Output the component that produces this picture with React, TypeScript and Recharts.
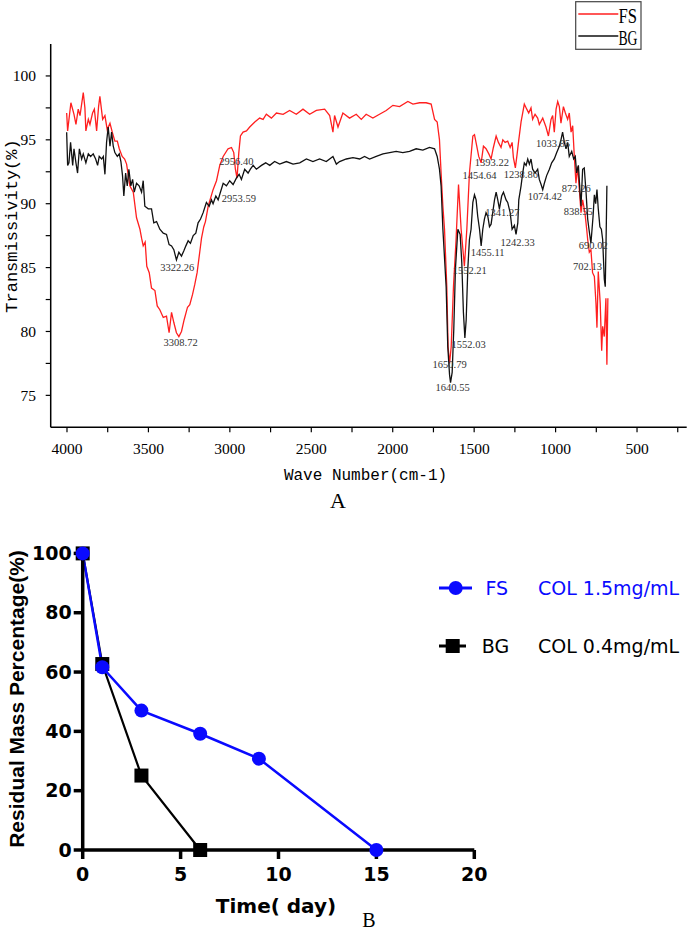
import React from 'react';
import { ComposedChart, Line, XAxis, YAxis, ReferenceDot } from 'recharts';

// ---- panel A: FTIR spectra, [wave number, transmissivity] ----
const FS_SPECTRUM: [number, number][] = [
  [4002, 97.1], [3996, 95.7], [3976, 97.9], [3957, 97.0], [3945, 96.2], [3931, 97.4], [3920, 96.9],
  [3900, 98.7], [3890, 97.5], [3884, 95.7], [3869, 96.6], [3859, 96.2], [3843, 97.1], [3832, 97.4],
  [3818, 95.7], [3806, 97.6], [3798, 98.4], [3781, 96.6], [3767, 96.9], [3753, 95.8], [3736, 96.3],
  [3722, 95.6], [3706, 94.9], [3691, 94.9], [3679, 94.3], [3661, 93.7], [3646, 93.5], [3634, 93.1],
  [3614, 91.4], [3593, 90.9], [3573, 88.9], [3552, 88.0], [3542, 87.3], [3532, 86.7], [3520, 87.0],
  [3510, 85.1], [3495, 84.6], [3481, 83.4], [3460, 83.2], [3446, 82.0], [3430, 81.7], [3409, 81.1],
  [3389, 81.2], [3373, 79.9], [3358, 81.5], [3344, 80.7], [3328, 79.9], [3313, 79.6], [3297, 80.0],
  [3281, 80.9], [3260, 81.9], [3246, 82.1], [3229, 82.9], [3215, 83.7], [3201, 84.6], [3185, 86.2],
  [3174, 87.3], [3160, 88.2], [3150, 88.6], [3133, 89.8], [3103, 91.1], [3082, 91.8], [3062, 93.0],
  [3041, 93.7], [3011, 94.3], [2990, 94.4], [2976, 94.0], [2966, 92.7], [2956, 92.0], [2945, 94.0],
  [2935, 95.3], [2919, 95.6], [2898, 95.7], [2878, 96.0], [2847, 96.4], [2817, 96.7], [2796, 96.6],
  [2776, 97.0], [2745, 96.7], [2714, 97.1], [2673, 97.0], [2633, 97.3], [2592, 97.0], [2551, 97.4],
  [2510, 97.0], [2469, 97.3], [2418, 97.4], [2387, 96.9], [2367, 95.6], [2357, 96.9], [2336, 96.0],
  [2306, 97.1], [2265, 96.7], [2224, 97.0], [2193, 96.6], [2163, 97.0], [2122, 96.7], [2081, 97.0],
  [2040, 97.3], [1999, 97.7], [1958, 97.6], [1907, 98.0], [1876, 97.8], [1835, 97.9], [1795, 97.9],
  [1764, 97.8], [1743, 96.6], [1727, 96.4], [1713, 95.0], [1703, 92.4], [1692, 89.8], [1682, 88.0],
  [1668, 83.5], [1660, 78.8], [1651, 77.5], [1641, 78.8], [1627, 83.5], [1611, 87.2], [1596, 91.5],
  [1580, 88.0], [1560, 85.1], [1545, 88.0], [1529, 92.4], [1508, 95.3], [1498, 95.4], [1484, 94.5],
  [1472, 93.7], [1457, 93.2], [1443, 94.5], [1427, 94.3], [1410, 93.9], [1396, 93.5], [1382, 94.4],
  [1365, 95.3], [1351, 94.8], [1335, 94.4], [1324, 95.0], [1310, 94.8], [1294, 94.9], [1279, 94.4],
  [1267, 94.8], [1259, 93.6], [1247, 92.8], [1237, 93.8], [1226, 95.0], [1212, 96.4], [1192, 97.8],
  [1177, 97.4], [1165, 97.1], [1151, 97.5], [1141, 96.6], [1126, 97.0], [1110, 96.7], [1100, 96.2],
  [1079, 96.7], [1059, 96.0], [1044, 95.3], [1028, 96.6], [1018, 96.9], [1008, 95.6], [997, 97.4],
  [987, 98.0], [977, 97.6], [967, 96.3], [952, 97.6], [940, 97.1], [926, 96.6], [916, 97.1],
  [905, 95.6], [895, 96.1], [885, 93.7], [875, 91.6], [865, 92.9], [854, 91.1], [844, 89.3],
  [834, 90.3], [820, 89.3], [809, 88.0], [803, 87.2], [793, 86.2], [783, 86.4], [773, 84.6],
  [762, 84.3], [752, 82.2], [746, 80.3], [738, 84.7], [726, 82.2], [717, 78.5], [711, 80.4],
  [701, 79.6], [691, 82.6], [685, 77.4], [679, 82.6],
];

const BG_SPECTRUM: [number, number][] = [
  [4002, 95.6], [3996, 93.0], [3988, 93.2], [3978, 94.8], [3965, 93.0], [3957, 94.3], [3945, 93.2],
  [3935, 92.4], [3924, 94.3], [3910, 93.5], [3900, 93.9], [3884, 93.2], [3869, 93.9], [3855, 93.7],
  [3839, 93.9], [3824, 93.5], [3812, 93.0], [3802, 93.7], [3787, 93.5], [3777, 93.7], [3767, 92.3],
  [3757, 94.8], [3747, 96.0], [3736, 94.5], [3726, 95.6], [3716, 94.5], [3706, 94.0], [3691, 93.7],
  [3679, 93.9], [3669, 93.3], [3659, 92.2], [3651, 90.6], [3640, 92.4], [3630, 91.4], [3620, 92.7],
  [3608, 91.4], [3597, 91.9], [3587, 90.9], [3573, 91.6], [3557, 91.4], [3542, 90.9], [3532, 91.8],
  [3522, 89.8], [3501, 89.6], [3481, 89.6], [3467, 88.5], [3450, 88.6], [3430, 88.0], [3409, 87.7],
  [3389, 87.6], [3373, 86.8], [3358, 86.7], [3344, 86.4], [3328, 85.6], [3313, 86.2], [3297, 85.9],
  [3283, 86.3], [3270, 86.7], [3256, 87.1], [3242, 86.9], [3225, 87.5], [3209, 87.7], [3195, 88.5],
  [3180, 88.8], [3164, 89.3], [3144, 90.1], [3127, 89.8], [3113, 90.3], [3103, 90.0], [3086, 90.6],
  [3072, 90.3], [3058, 90.9], [3041, 91.6], [3021, 91.4], [3001, 91.8], [2980, 91.5], [2960, 92.0],
  [2943, 92.3], [2929, 91.9], [2909, 92.7], [2888, 92.4], [2874, 92.7], [2857, 93.0], [2837, 92.7],
  [2806, 93.0], [2780, 93.2], [2755, 93.0], [2725, 93.3], [2694, 93.1], [2653, 93.3], [2612, 93.1],
  [2571, 93.2], [2530, 93.5], [2490, 93.3], [2449, 93.5], [2408, 93.3], [2367, 93.7], [2346, 93.1],
  [2326, 93.3], [2285, 93.5], [2244, 93.6], [2203, 93.5], [2173, 93.7], [2142, 93.5], [2101, 93.7],
  [2060, 93.9], [2019, 94.0], [1979, 94.1], [1938, 94.0], [1897, 94.1], [1856, 94.3], [1815, 94.2],
  [1774, 94.4], [1743, 94.3], [1727, 93.7], [1713, 92.7], [1703, 91.4], [1692, 88.0], [1672, 83.5],
  [1662, 78.8], [1651, 76.6], [1645, 76.0], [1635, 76.8], [1625, 80.2], [1615, 84.9], [1600, 88.0],
  [1586, 87.6], [1576, 85.4], [1566, 81.5], [1557, 79.5], [1549, 80.9], [1539, 84.9], [1529, 87.2],
  [1519, 88.0], [1508, 90.1], [1498, 90.7], [1488, 90.3], [1478, 89.0], [1467, 88.0], [1457, 86.7],
  [1447, 88.0], [1437, 88.8], [1427, 89.3], [1416, 89.0], [1406, 88.2], [1396, 88.4], [1386, 89.3],
  [1375, 90.3], [1365, 90.9], [1355, 90.3], [1345, 89.6], [1331, 90.6], [1320, 90.9], [1304, 90.3],
  [1294, 90.1], [1279, 89.3], [1267, 88.0], [1253, 88.3], [1243, 87.6], [1232, 88.5], [1226, 90.3],
  [1212, 91.4], [1202, 92.4], [1192, 93.2], [1181, 93.0], [1171, 93.5], [1161, 93.1], [1151, 93.5],
  [1141, 92.7], [1126, 92.4], [1110, 92.7], [1100, 91.9], [1089, 91.5], [1079, 91.1], [1069, 91.6],
  [1055, 92.2], [1038, 92.7], [1024, 93.2], [1008, 93.5], [993, 94.0], [977, 94.5], [967, 95.0],
  [957, 95.6], [946, 94.8], [936, 94.3], [926, 94.8], [916, 93.7], [901, 94.1], [889, 93.5],
  [879, 93.7], [871, 92.4], [860, 93.0], [850, 90.9], [844, 89.8], [834, 92.7], [824, 92.8],
  [813, 90.9], [803, 88.8], [795, 88.0], [783, 86.9], [770, 89.0], [762, 90.7], [754, 90.0],
  [746, 91.1], [738, 89.6], [728, 88.2], [719, 88.0], [711, 87.2], [701, 84.1], [695, 83.5],
  [689, 88.0], [685, 91.4],
];

// peak annotations: where the text sits (wave number, transmissivity) and what it says
const PEAK_WAVES = [2960, 2945, 3323, 3302, 1651, 1632, 1534, 1527, 1417, 1233, 769, 804, 1016, 1391, 1467, 1213, 1066, 873, 861, 1327];
const PEAK_VALUES = [93.3, 90.4, 85.0, 79.1, 77.4, 75.6, 79.0, 84.8, 86.2, 87.0, 86.7, 85.1, 94.7, 93.2, 92.2, 92.3, 90.6, 91.2, 89.4, 89.3];
const PEAK_TEXTS = ['2956.40', '2953.59', '3322.26', '3308.72', '1650.79', '1640.55', '1552.03', '1552.21', '1455.11', '1242.33',
  '690.02', '702.13', '1033.85', '1393.22', '1454.64', '1238.86', '1074.42', '872.26', '838.55', '1341.27'];

const WAVE_TICKS = [250, 500, 750, 1000, 1250, 1500, 1750, 2000, 2250, 2500, 2750, 3000, 3250, 3500, 3750, 4000];
const TRANS_TICKS = [75, 77.5, 80, 82.5, 85, 87.5, 90, 92.5, 95, 97.5, 100];

// ---- panel B: residual mass ----
const FS_DAYS = [0, 1, 3, 6, 9, 15];
const FS_RESIDUAL = [100, 61.6, 47.0, 39.2, 30.8, 0];
const BG_DAYS = [0, 1, 3, 6];
const BG_RESIDUAL = [100, 62.7, 25.1, 0];
const DAY_TICKS = [0, 5, 10, 15, 20];
const RESIDUAL_TICKS = [0, 20, 40, 60, 80, 100];

const RED = '#ff1f1f';
const BLUE = '#0a0aff';
const SERIF = "'Liberation Serif', 'Times New Roman', serif";
const MONO = "'Liberation Mono', 'DejaVu Sans Mono', monospace";

const fsSpectrum = FS_SPECTRUM.map(([w, v]) => ({ w, v }));
const bgSpectrum = BG_SPECTRUM.map(([w, v]) => ({ w, v }));
const peaks = PEAK_TEXTS.map((text, i) => ({ text, w: PEAK_WAVES[i], v: PEAK_VALUES[i] }));
const fsResidual = FS_DAYS.map((day, i) => ({ day, r: FS_RESIDUAL[i] }));
const bgResidual = BG_DAYS.map((day, i) => ({ day, r: BG_RESIDUAL[i] }));

const peakShape = (text: string) => (props: any) => (
  <text
    x={props.cx}
    y={props.cy}
    textAnchor="middle"
    dominantBaseline="central"
    fontFamily={SERIF}
    fontSize={10.5}
    fill="#333"
  >
    {text}
  </text>
);

const SquareDot = (props: any) => {
  const { cx, cy, index } = props;
  return <rect key={`sq-${index}`} x={cx - 7} y={cy - 7} width={14} height={14} fill="#000" />;
};

function SpectrumChart() {
  const tickStyle = { fontSize: 15.5, fontFamily: SERIF, fill: '#000' };
  return (
    <ComposedChart width={689} height={470} margin={{ top: 44, right: 2.3, bottom: 0, left: 0 }}>
      <XAxis
        dataKey="w"
        type="number"
        domain={[195, 4100]}
        reversed
        allowDataOverflow
        ticks={WAVE_TICKS}
        interval={0}
        tickFormatter={(t: number) => (t % 500 === 0 ? String(t) : '')}
        height={42.7}
        axisLine={{ stroke: '#000', strokeWidth: 1.5 }}
        tickLine={{ stroke: '#000', strokeWidth: 1.2 }}
        tickSize={5}
        tickMargin={11}
        tick={tickStyle}
      />
      <YAxis
        type="number"
        domain={[72.5, 102.5]}
        allowDataOverflow
        ticks={TRANS_TICKS}
        interval={0}
        tickFormatter={(t: number) => (t % 5 === 0 ? String(t) : '')}
        width={50.7}
        axisLine={{ stroke: '#000', strokeWidth: 1.5 }}
        tickLine={{ stroke: '#000', strokeWidth: 1.2 }}
        tickSize={5}
        tickMargin={9.7}
        tick={tickStyle}
      />
      {peaks.map((p) => (
        <ReferenceDot key={p.text} x={p.w} y={p.v} r={0} shape={peakShape(p.text)} />
      ))}
      <Line data={fsSpectrum} dataKey="v" type="linear" stroke={RED} strokeWidth={1.3} dot={false} isAnimationActive={false} />
      <Line data={bgSpectrum} dataKey="v" type="linear" stroke="#111" strokeWidth={1.3} dot={false} isAnimationActive={false} />
    </ComposedChart>
  );
}

function ResidualChart() {
  const tickStyle = { fontSize: 19, fontWeight: 700, fontFamily: "'DejaVu Sans', sans-serif", fill: '#000' };
  return (
    <ComposedChart width={689} height={464} margin={{ top: 83.4, right: 214.7, bottom: 0, left: 0 }}>
      <XAxis
        dataKey="day"
        type="number"
        domain={[0, 20]}
        ticks={DAY_TICKS}
        interval={0}
        height={84}
        axisLine={{ stroke: '#000', strokeWidth: 3.5 }}
        tickLine={{ stroke: '#000', strokeWidth: 3.5 }}
        tickSize={9}
        tickMargin={9}
        tick={tickStyle}
      />
      <YAxis
        type="number"
        domain={[0, 100]}
        ticks={RESIDUAL_TICKS}
        interval={0}
        width={82.7}
        axisLine={{ stroke: '#000', strokeWidth: 3.5 }}
        tickLine={{ stroke: '#000', strokeWidth: 3.5 }}
        tickSize={9}
        tickMargin={2}
        tick={tickStyle}
      />
      <Line data={bgResidual} dataKey="r" type="linear" stroke="#000" strokeWidth={2.2} dot={SquareDot} isAnimationActive={false} />
      <Line
        data={fsResidual}
        dataKey="r"
        type="linear"
        stroke={BLUE}
        strokeWidth={2.5}
        dot={{ r: 7, fill: BLUE, stroke: BLUE, strokeWidth: 0 }}
        isAnimationActive={false}
      />
    </ComposedChart>
  );
}

// titles and legends that sit around the two plots
function Overlay() {
  return (
    <svg width={689} height={934} style={{ position: 'absolute', left: 0, top: 0, pointerEvents: 'none' }}>
      {/* panel A legend */}
      <rect x={575.7} y={1.7} width={65.3} height={47.6} fill="#fff" stroke="#444" strokeWidth={1.2} />
      <line x1={578.3} x2={618.3} y1={14} y2={14} stroke={RED} strokeWidth={1.3} />
      <text x={618.5} y={22.7} fontFamily={SERIF} fontSize={21} textLength={18.5} lengthAdjust="spacingAndGlyphs">FS</text>
      <line x1={578.3} x2={618.3} y1={36} y2={36} stroke="#111" strokeWidth={1.3} />
      <text x={618.5} y={45} fontFamily={SERIF} fontSize={21} textLength={19} lengthAdjust="spacingAndGlyphs">BG</text>

      <text x={12} y={226} transform="rotate(-90 12 226)" textAnchor="middle" dominantBaseline="central" fontFamily={MONO} fontSize={17}>
        Transmissivity(%)
      </text>
      <text x={365.5} y={476} textAnchor="middle" dominantBaseline="central" fontFamily={MONO} fontSize={16}>
        Wave Number(cm-1)
      </text>
      <text x={338} y={500} textAnchor="middle" dominantBaseline="central" fontFamily={SERIF} fontSize={22}>A</text>

      {/* panel B legend */}
      <line x1={439} x2={472} y1={588} y2={588} stroke={BLUE} strokeWidth={3} />
      <circle cx={455.7} cy={588} r={7} fill={BLUE} />
      <text x={485.5} y={595} fontFamily="'DejaVu Sans', sans-serif" fontSize={19} fill={BLUE}>FS</text>
      <text x={538} y={595} fontFamily="'DejaVu Sans', sans-serif" fontSize={19} fill={BLUE}>COL 1.5mg/mL</text>
      <line x1={439} x2={466} y1={646} y2={646} stroke="#000" strokeWidth={3} />
      <rect x={445.7} y={639} width={14} height={14} fill="#000" />
      <text x={481.7} y={653} fontFamily="'DejaVu Sans', sans-serif" fontSize={19} fill="#000">BG</text>
      <text x={538} y={653} fontFamily="'DejaVu Sans', sans-serif" fontSize={19} fill="#000">COL 0.4mg/mL</text>

      <text x={16} y={699} transform="rotate(-90 16 699)" textAnchor="middle" dominantBaseline="central"
        fontFamily="'Liberation Sans', Arial, sans-serif" fontWeight={700} fontSize={21}>
        Residual Mass Percentage(%)
      </text>
      <text x={276} y={906} textAnchor="middle" dominantBaseline="central" fontFamily="'DejaVu Sans', sans-serif" fontWeight={700} fontSize={20}>
        Time( day)
      </text>
      <text x={369} y={920} textAnchor="middle" dominantBaseline="central" fontFamily={SERIF} fontSize={20}>B</text>
    </svg>
  );
}

export default function App() {
  return (
    <div style={{ position: 'absolute', left: 0, top: 0, width: 689, height: 934, background: '#fff', overflow: 'hidden' }}>
      <div style={{ position: 'absolute', left: 0, top: 0 }}>
        <SpectrumChart />
      </div>
      <div style={{ position: 'absolute', left: 0, top: 470 }}>
        <ResidualChart />
      </div>
      <Overlay />
    </div>
  );
}
